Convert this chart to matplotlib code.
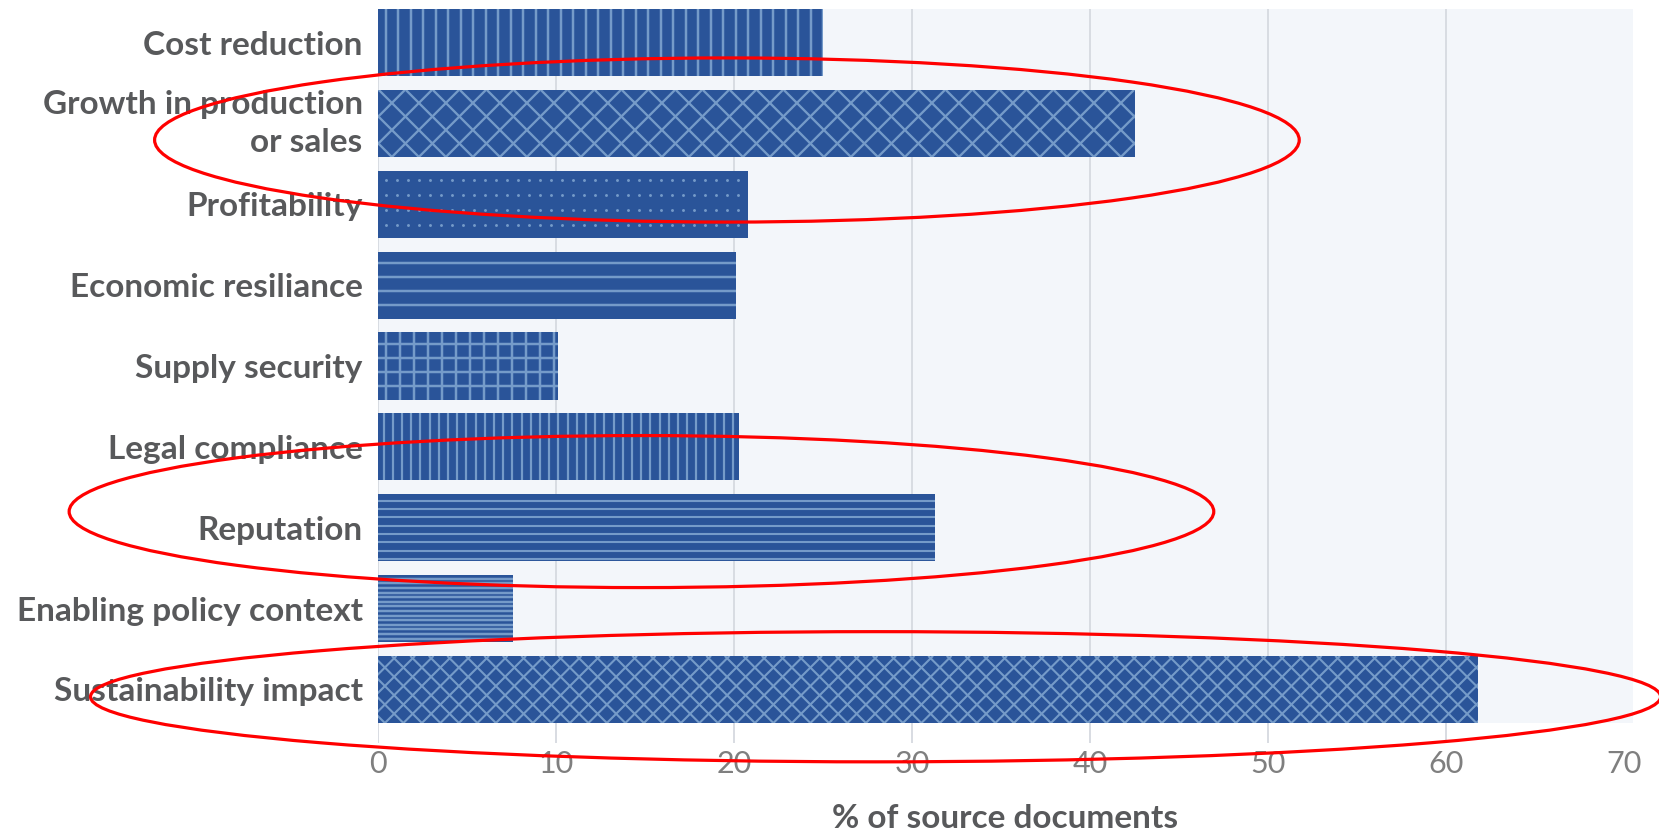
import numpy as np
import matplotlib
matplotlib.use('Agg')
import matplotlib.pyplot as plt
from matplotlib.collections import LineCollection
from matplotlib.patches import Ellipse, Rectangle
from matplotlib.transforms import IdentityTransform

categories = ['Cost reduction', 'Growth in production\nor sales', 'Profitability',
              'Economic resiliance', 'Supply security', 'Legal compliance',
              'Reputation', 'Enabling policy context', 'Sustainability impact']
share = [25.0, 42.5, 20.8, 20.1, 10.1, 20.3, 31.3, 7.6, 61.8]
xticks = [0, 10, 20, 30, 40, 50, 60, 70]

# pattern per bar: kind, spacing (px), line width (px)
patterns = [('v', 12.5, 2.5), ('x', 27, 2.3), ('dots', (11, 15), 2.9),
            ('h', 14, 2.5), ('grid', 14, 2.5), ('v', 9.2, 2.2),
            ('h', 8.3, 2.1), ('h', 4.6, 2.5), ('x', 18.5, 2.1)]

bar_blue = '#2a5499'
line_blue = '#759bc9'
text_grey = '#58595b'
tick_grey = '#7f7f7f'

plt.rcParams['font.family'] = ['Lato', 'DejaVu Sans']

fig = plt.figure(figsize=(16.59, 8.34), dpi=100)
ax = fig.add_axes([378 / 1659, 1 - 743 / 834, 1255 / 1659, 734 / 834])

bh = 0.83
xmax = 70.5
ax.set_xlim(0, xmax)
ax.set_ylim(len(categories) - 1 + bh / 2 + 0.247, -bh / 2)

ax.add_patch(Rectangle((0, -bh / 2), xmax, len(categories) - 1 + bh,
                       facecolor='#f3f6fa', edgecolor='none', zorder=0))

y = np.arange(len(categories))
bars = ax.barh(y, share, height=bh, color=bar_blue, zorder=2)


def hatch_bar(bar, kind, step, lw):
    pts = ax.transData.transform(bar.get_bbox().get_points())
    x0, x1 = sorted(pts[:, 0])
    ylo, yhi = sorted(pts[:, 1])
    H = yhi - ylo
    segs = []
    if kind in ('v', 'grid'):
        for x in np.arange(x0 + step * 0.6, x1, step):
            segs.append([(x, ylo), (x, yhi)])
    if kind in ('h', 'grid'):
        for yy in np.arange(yhi - step * 0.8, ylo, -step):
            segs.append([(x0, yy), (x1, yy)])
    if kind == 'x':
        for c in np.arange(x0 - H, x1 + H, step):
            segs.append([(c, ylo), (c + H, yhi)])
            segs.append([(c, ylo), (c - H, yhi)])
    if kind == 'dots':
        sx, sy = step
        xs = np.arange(x0 + sx * 0.7, x1 - 2, sx)
        ys = np.arange(yhi - 9.5, ylo, -sy)
        gx, gy = np.meshgrid(xs, ys)
        dots, = ax.plot(gx.ravel(), gy.ravel(), 'o', ms=lw * 0.72, mew=0,
                        color=line_blue, transform=IdentityTransform(), zorder=3)
        dots.set_clip_path(bar)
        return
    lc = LineCollection(segs, colors=line_blue, linewidths=lw * 0.72,
                        transform=IdentityTransform(), zorder=3)
    ax.add_collection(lc, autolim=False)
    lc.set_clip_path(bar)


for bar, (kind, step, lw) in zip(bars, patterns):
    hatch_bar(bar, kind, step, lw)

ax.set_yticks(y)
ax.set_yticklabels(categories, fontsize=24, fontweight='bold', color=text_grey,
                   linespacing=1.4)
for lab in ax.get_yticklabels():
    if '\n' in lab.get_text():
        lab.set_va('center')
ax.set_xticks(xticks)
ax.set_xticklabels([str(t) for t in xticks], fontsize=22, color=tick_grey)
ax.tick_params(axis='y', length=0, pad=11)
ax.tick_params(axis='x', length=0, pad=5)

ax.set_axisbelow(True)
ax.xaxis.grid(True, color='#d8dce2', linewidth=1.4)
ax.xaxis.get_gridlines()[-1].set_visible(False)
for s in ax.spines.values():
    s.set_visible(False)

ax.set_xlabel('% of source documents', fontsize=24, fontweight='bold',
              color=text_grey, labelpad=19)

# red rings around the highlighted categories
for cx, cy, w, h in [(19.6, 1.205, 64.3, 2.03), (14.8, 5.80, 64.3, 1.88),
                     (27.95, 8.09, 88.2, 1.61)]:
    ax.add_patch(Ellipse((cx, cy), w, h, fill=False, edgecolor='#ff0000',
                         linewidth=2.3, clip_on=False, zorder=5))

fig.savefig('out.png', dpi=100)
